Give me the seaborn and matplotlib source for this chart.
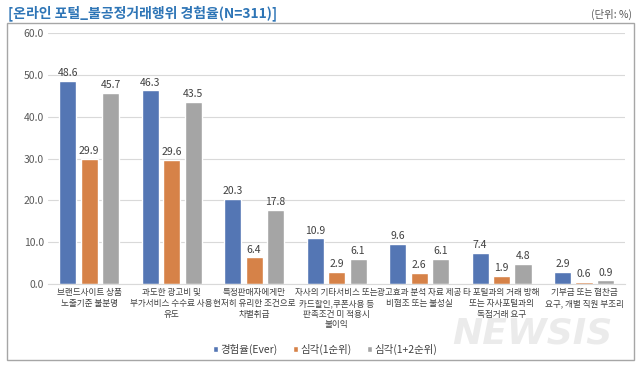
import seaborn as sns
import matplotlib.pyplot as plt
import pandas as pd
from matplotlib.patches import Rectangle

categories = [
    "브랜드사이트 상품\n노출기준 불분명",
    "과도한 광고비 및\n부가서비스 수수료 사용\n유도",
    "특정판매자에게만\n현저히 유리한 조건으로\n차별취급",
    "자사의 기타서비스 또는\n카드할인,쿠폰사용 등\n판촉조건 미 적용시\n불이익",
    "광고효과 분석 자료 제공\n비협조 또는 불성실",
    "타 포털과의 거래 방해\n또는 자사포털과의\n독점거래 요구",
    "기부금 또는 협찬금\n요구, 개별 직원 부조리",
]
series = ["경험율(Ever)", "심각(1순위)", "심각(1+2순위)"]
ever = [48.6, 46.3, 20.3, 10.9, 9.6, 7.4, 2.9]
rank1 = [29.9, 29.6, 6.4, 2.9, 2.6, 1.9, 0.6]
rank12 = [45.7, 43.5, 17.8, 6.1, 6.1, 4.8, 0.9]
colors = ["#4472C4", "#ED7D31", "#A5A5A5"]

df = pd.DataFrame({
    "cat": categories * 3,
    "series": [s for s in series for _ in categories],
    "value": ever + rank1 + rank12,
})

sns.set_style("white")
plt.rcParams["font.family"] = ["Noto Sans CJK KR", "DejaVu Sans"]

fig = plt.figure(figsize=(6.4, 3.67), dpi=100)
ax = fig.add_axes([0.075, 0.226, 0.902, 0.684])

sns.barplot(data=df, x="cat", y="value", hue="series", palette=colors,
            width=0.78, gap=0.2, ax=ax, legend=True)

for cont in ax.containers:
    ax.bar_label(cont, fmt="%.1f", padding=2, fontsize=7.5, color="#404040")

ax.set_ylim(0, 60)
ax.set_yticks(range(0, 61, 10))
ax.set_yticklabels([f"{v:.1f}" for v in range(0, 61, 10)], fontsize=7.5, color="#595959")
ax.set_xticks(range(len(categories)))
ax.set_xticklabels(categories, fontsize=6.2, color="#404040", linespacing=1.25)
ax.tick_params(axis="both", length=0, pad=3)
ax.set_xlabel("")
ax.set_ylabel("")
ax.grid(axis="y", color="#D9D9D9", linewidth=0.8)
ax.set_axisbelow(True)
for s in ["top", "right", "left"]:
    ax.spines[s].set_visible(False)
ax.spines["bottom"].set_color("#D9D9D9")

ax.legend(loc="center", bbox_to_anchor=(0.48, -0.26), ncol=3, frameon=False,
          fontsize=7.5, handlelength=0.5, handleheight=0.5, columnspacing=1.5,
          handletextpad=0.2, labelcolor="#404040")

fig.patches.append(Rectangle((7 / 640, 1 - 360 / 367), 627 / 640, 337 / 367,
                             transform=fig.transFigure, fill=False,
                             edgecolor="#A6A6A6", linewidth=1))

fig.text(8 / 640, 1 - 13 / 367, "[온라인 포털_불공정거래행위 경험율(N=311)]",
         fontsize=10, fontweight="bold", color="#2E75B6", va="center", ha="left")
fig.text(632 / 640, 1 - 14 / 367, "(단위: %)", fontsize=7.5, color="#595959",
         va="center", ha="right")
fig.text(612 / 640, 1 - 333 / 367, "NEWSIS", fontsize=26, fontstyle="italic",
         fontweight="bold", color="#E6E6E6", alpha=0.8, ha="right", va="center",
         family="DejaVu Sans", zorder=0)

fig.savefig("out.png", dpi=100)
